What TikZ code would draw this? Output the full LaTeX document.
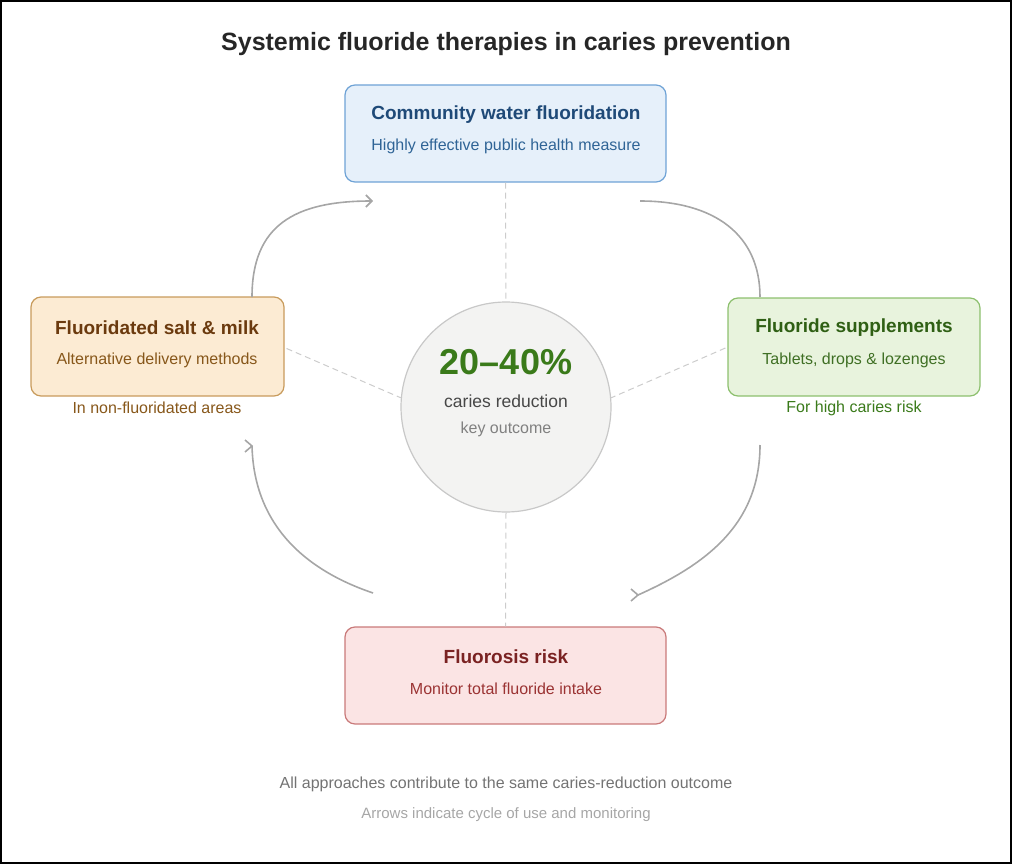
\documentclass[tikz,border=0pt]{standalone}
\usepackage{fontspec}
\setmainfont{Liberation Sans}
\usetikzlibrary{arrows.meta,calc}
\definecolor{wfill}{HTML}{E6F0FA}\definecolor{wdraw}{HTML}{6FA3D6}
\definecolor{wtitle}{HTML}{1F4A78}\definecolor{wsub}{HTML}{2F6496}
\definecolor{sfill}{HTML}{FCEBD3}\definecolor{sdraw}{HTML}{C89B5C}
\definecolor{stitle}{HTML}{6B3A0E}\definecolor{ssub}{HTML}{87571A}
\definecolor{pfill}{HTML}{E8F3DD}\definecolor{pdraw}{HTML}{8DC06E}
\definecolor{ptitle}{HTML}{2F5F14}\definecolor{psub}{HTML}{3F6F24}
\definecolor{rfill}{HTML}{FBE4E4}\definecolor{rdraw}{HTML}{C97A7A}
\definecolor{rtitle}{HTML}{7A2222}\definecolor{rsub}{HTML}{9B3333}
\definecolor{cfill}{HTML}{F3F3F2}\definecolor{cdraw}{HTML}{C8C8C8}
\definecolor{cgreen}{HTML}{3A7A1A}
\tikzset{
  box/.style={draw, line width=1.2pt, rounded corners=10pt, inner sep=0pt},
  ttl/.style={font=\fontsize{19}{23}\selectfont\bfseries, inner sep=0pt},
  sub/.style={font=\fontsize{16}{19}\selectfont, inner sep=0pt},
  dashline/.style={draw=black!20, line width=1pt, dash pattern=on 6pt off 4pt},
  arrowline/.style={draw=black!35, line width=1.6pt},
}
\begin{document}
\begin{tikzpicture}[x=1pt,y=-1pt]
\useasboundingbox (0,0) rectangle (1012,864);
\draw[line width=2pt] (1,1) rectangle (1011,863);
% title
\node[font=\fontsize{25}{29}\selectfont\bfseries, text=black!85, inner sep=0pt] (title) at (506,44) {Systemic fluoride therapies in caries prevention};
% boxes
\node[box, fill=wfill, draw=wdraw, minimum width=321pt, minimum height=97pt] (water) at (505.5,133.5) {};
\node[box, fill=sfill, draw=sdraw, minimum width=253pt, minimum height=99pt] (salt) at (157.5,346.5) {};
\node[box, fill=pfill, draw=pdraw, minimum width=252pt, minimum height=98pt] (supp) at (854,347) {};
\node[box, fill=rfill, draw=rdraw, minimum width=321pt, minimum height=97pt] (risk) at (505.5,675.5) {};
\node[circle, fill=cfill, draw=cdraw, line width=1.2pt, minimum size=210pt, inner sep=0pt] (ctr) at (506,407) {};
% dashed links
\draw[dashline] (water.south) -- (ctr.north);
\draw[dashline] (ctr.south) -- (risk.north);
\draw[dashline] (salt.east) ++(2,2) coordinate (sl) (sl) -- (ctr.175);
\draw[dashline] (supp.west) ++(-2,1) coordinate (sr) (sr) -- (ctr.5);
% texts
\node[ttl, text=wtitle] (wt) at (506,115) {Community water fluoridation};
\node[sub, text=wsub] (ws) at (506,146) {Highly effective public health measure};
\node[ttl, text=stitle] (st) at (157,328) {Fluoridated salt \& milk};
\node[sub, text=ssub] (ss) at (157,360) {Alternative delivery methods};
\node[sub, text=ssub] (sn) at (157,408) {In non-fluoridated areas};
\node[ttl, text=ptitle] (pt) at (854,328) {Fluoride supplements};
\node[sub, text=psub] (ps) at (854,360) {Tablets, drops \& lozenges};
\node[sub, text=cgreen] (pn) at (854,408) {For high caries risk};
\node[ttl, text=rtitle] (rt) at (506,657) {Fluorosis risk};
\node[sub, text=rsub] (rs) at (506,689) {Monitor total fluoride intake};
\node[font=\fontsize{36}{40}\selectfont\bfseries, text=cgreen, inner sep=0pt] (pct) at (506,362) {20–40\%};
\node[font=\fontsize{17.5}{20}\selectfont, text=black!72, inner sep=0pt] (cr) at (506,401) {caries reduction};
\node[font=\fontsize{16}{19}\selectfont, text=black!50, inner sep=0pt] (ko) at (506,429) {key outcome};
% cycle arrows
\coordinate (a1s) at (252,297);
\coordinate (a1e) at (373,201);
\coordinate (a2s) at (640,201);
\coordinate (a2e) at (760,297);
\coordinate (a3s) at (760,445);
\coordinate (a3e) at (638,595);
\coordinate (a4s) at (373,593);
\coordinate (a4e) at (252,446);
\draw[arrowline, -{Straight Barb[length=6pt,width=12pt,line width=1.6pt]}] (a1s) .. controls (252,225) and (295,201) .. (a1e);
\draw[arrowline] (a2s) .. controls (715,201) and (760,235) .. (a2e);
\draw[arrowline] (a3s) .. controls (760,525) and (705,565) .. (a3e);
\draw[arrowline] (a4s) .. controls (305,570) and (254,525) .. (a4e);
\draw[arrowline] ($(a3e)+(-7,-6)$) -- (a3e) -- ($(a3e)+(-7,6)$);
\draw[arrowline] ($(a4e)+(-7,-6)$) -- (a4e) -- ($(a4e)+(-7,6)$);
% footer
\node[font=\fontsize{16}{19}\selectfont, text=black!55, inner sep=0pt] (f1) at (506,784) {All approaches contribute to the same caries-reduction outcome};
\node[font=\fontsize{15}{18}\selectfont, text=black!35, inner sep=0pt] (f2) at (506,815) {Arrows indicate cycle of use and monitoring};
\end{tikzpicture}
\end{document}
